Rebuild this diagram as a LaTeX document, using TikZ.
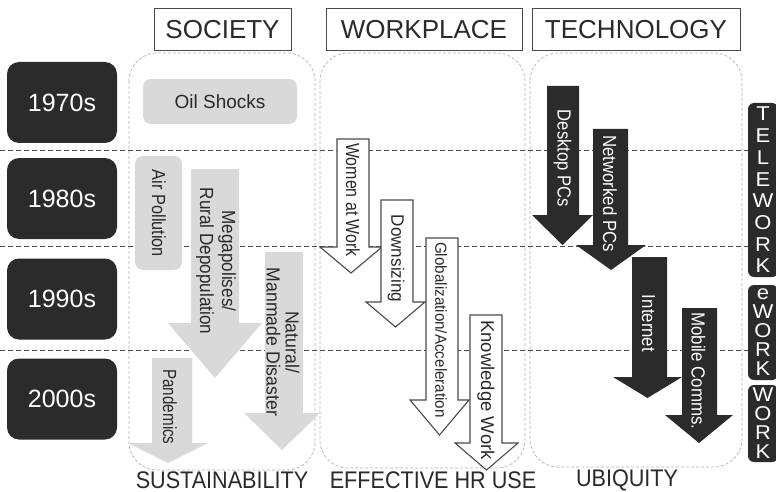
\documentclass[tikz,border=0pt]{standalone}
\usepackage{fontspec}
\setmainfont{Liberation Sans}
\definecolor{dk}{HTML}{2B2B2B}
\definecolor{lg}{HTML}{D9D9D9}
\definecolor{txt}{HTML}{2A2A2A}
\definecolor{ln}{HTML}{4A4A4A}
\definecolor{colc}{HTML}{B4B4B4}
\newcommand{\fatarrow}[8]{%
  \path[#1] (#2,#4) -- (#3,#4) -- (#3,#5) -- (#7,#5) -- ({(#6+#7)/2},#8) -- (#6,#5) -- (#2,#5) -- cycle;}
\tikzset{
  colbox/.style={draw=colc, dash pattern=on 3pt off 2pt, line width=0.7pt, rounded corners=28pt},
  rowline/.style={draw=ln, dash pattern=on 5pt off 3pt, line width=1pt},
  headbox/.style={draw=ln, line width=1pt, text=txt, font=\fontsize{26}{30}\selectfont, inner sep=0pt},
  yearbox/.style={fill=dk, text=white, rounded corners=12pt, minimum width=110pt, minimum height=81pt, inner sep=0pt, font=\fontsize{25}{30}\selectfont},
  vbox/.style={fill=dk, text=white, rounded corners=6pt, minimum width=30pt, inner sep=0pt, align=center},
  socshape/.style={fill=lg},
  wkshape/.style={fill=white, draw=ln, line width=1.1pt},
  tcshape/.style={fill=dk},
  rtxt/.style n args={4}{rotate=-90, inner sep=0pt, align=center, text=#1,
     font=\fontsize{#2}{#3}\selectfont\addfontfeature{FakeStretch=#4}},
  foot/.style={text=txt, inner sep=0pt, font=\fontsize{24}{26}\selectfont\addfontfeature{FakeStretch=0.9}}
}
\begin{document}
\begin{tikzpicture}[x=1pt,y=-1pt]
\useasboundingbox[fill=white] (0,0) rectangle (776,492);
% columns
\draw[colbox] (129,53) rectangle (315,470);
\draw[colbox] (320,53) rectangle (525,468);
\draw[colbox] (530,53) rectangle (742,467);
% row separators
\draw[rowline] (0,150) -- (748,150);
\draw[rowline] (0,246) -- (748,246);
\draw[rowline] (0,350) -- (748,350);
% headers
\node[headbox, minimum width=137pt, minimum height=42pt] (hsoc) at (222.5,30) {SOCIETY};
\node[headbox, minimum width=196pt, minimum height=42pt] (hwork) at (424,30) {WORKPLACE};
\node[headbox, minimum width=208pt, minimum height=42pt] (htech) at (636,30) {TECHNOLOGY};
% years
\node[yearbox] (y70) at (62,102.5) {1970s};
\node[yearbox] (y80) at (62,198.5) {1980s};
\node[yearbox] (y90) at (62,299) {1990s};
\node[yearbox] (y00) at (62,399) {2000s};
% society
\node[fill=lg, rounded corners=8pt, minimum width=154pt, minimum height=45pt, inner sep=0pt, text=txt, font=\fontsize{19}{22}\selectfont] (oil) at (220,101.5) {Oil Shocks};
\node[fill=lg, rounded corners=8pt, minimum width=47pt, minimum height=114pt, inner sep=0pt] (airbox) at (158.5,213) {};
\node[rtxt={txt}{19}{22}{0.86}] (air) at (159,213.5) {Air Pollution};
\fatarrow{socshape}{191}{239}{169}{323}{168}{262}{378}
\node[rtxt={txt}{19}{22}{0.9}] (mega) at (216,261) {Megapolises/\\Rural Depopulation};
\fatarrow{socshape}{265}{303}{252}{413}{244}{320}{450}
\node[rtxt={txt}{19}{19}{0.93}] (nat) at (283,342) {Natural/\\Manmade Disaster};
\fatarrow{socshape}{152}{192}{358}{443}{128}{208}{463}
\node[rtxt={txt}{19}{22}{0.8}] (pand) at (170,407) {Pandemics};
% workplace
\fatarrow{wkshape}{337}{369}{139}{247}{320}{382}{273}
\node[rtxt={txt}{19}{22}{0.84}] (women) at (353,200) {Women at Work};
\fatarrow{wkshape}{381}{413}{200}{302}{366}{425}{327}
\node[rtxt={txt}{18}{22}{0.95}] (down) at (396,258.5) {Downsizing};
\fatarrow{wkshape}{426}{458}{238}{400}{410}{469}{435}
\node[rtxt={txt}{16}{20}{0.95}] (glob) at (441,330) {Globalization/Acceleration};
\fatarrow{wkshape}{470}{502}{315}{443}{455}{518}{470}
\node[rtxt={txt}{18.5}{22}{1.0}] (know) at (486,390) {Knowledge Work};
% technology
\fatarrow{tcshape}{547}{579}{86}{215}{532}{593}{245}
\node[rtxt={white}{19}{22}{0.875}] (desk) at (562.5,158.5) {Desktop PCs};
\fatarrow{tcshape}{593}{628}{129}{245}{576}{646}{270}
\node[rtxt={white}{19}{22}{0.886}] (net) at (610,193.5) {Networked PCs};
\fatarrow{tcshape}{632}{667}{257}{377}{613}{682}{398}
\node[rtxt={white}{19}{22}{0.885}] (inet) at (648.5,323.5) {Internet};
\fatarrow{tcshape}{682}{717}{308}{415}{665}{733}{443}
\node[rtxt={white}{19}{22}{0.89}] (mob) at (698.5,371) {Mobile Comms.};
% right side work types
\node[vbox, minimum height=174pt, font=\fontsize{20}{21.7}\selectfont\addfontfeature{FakeStretch=1.1}] (tele) at (763,190) {T\\E\\L\\E\\W\\O\\R\\K};
\node[vbox, minimum height=95pt, font=\fontsize{20}{19}\selectfont\addfontfeature{FakeStretch=1.1}] (ework) at (763,332.5) {e\\W\\O\\R\\K};
\node[vbox, minimum height=77pt, font=\fontsize{20}{19}\selectfont\addfontfeature{FakeStretch=1.1}] (work) at (763,423.5) {W\\O\\R\\K};
% footers
\node[foot] (sust) at (222,480) {SUSTAINABILITY};
\node[foot] (ehr) at (433,480) {EFFECTIVE HR USE};
\node[foot] (ubiq) at (627,480) {UBIQUITY};
\end{tikzpicture}
\end{document}
